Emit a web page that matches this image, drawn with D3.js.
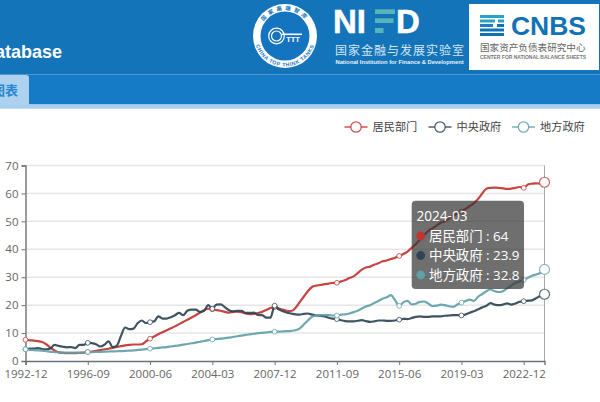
<!DOCTYPE html>
<html><head><meta charset="utf-8">
<script src="https://cdn.jsdelivr.net/npm/d3@7/dist/d3.min.js"></script>
<style>html,body{margin:0;padding:0;background:#fff;overflow:hidden}svg{display:block}</style>
</head><body><svg id="c" width="600" height="402"></svg>
<script>
const categories = ["1992-12","1993-03","1993-06","1993-09","1993-12","1994-03","1994-06","1994-09","1994-12","1995-03","1995-06","1995-09","1995-12","1996-03","1996-06","1996-09","1996-12","1997-03","1997-06","1997-09","1997-12","1998-03","1998-06","1998-09","1998-12","1999-03","1999-06","1999-09","1999-12","2000-03","2000-06","2000-09","2000-12","2001-03","2001-06","2001-09","2001-12","2002-03","2002-06","2002-09","2002-12","2003-03","2003-06","2003-09","2003-12","2004-03","2004-06","2004-09","2004-12","2005-03","2005-06","2005-09","2005-12","2006-03","2006-06","2006-09","2006-12","2007-03","2007-06","2007-09","2007-12","2008-03","2008-06","2008-09","2008-12","2009-03","2009-06","2009-09","2009-12","2010-03","2010-06","2010-09","2010-12","2011-03","2011-06","2011-09","2011-12","2012-03","2012-06","2012-09","2012-12","2013-03","2013-06","2013-09","2013-12","2014-03","2014-06","2014-09","2014-12","2015-03","2015-06","2015-09","2015-12","2016-03","2016-06","2016-09","2016-12","2017-03","2017-06","2017-09","2017-12","2018-03","2018-06","2018-09","2018-12","2019-03","2019-06","2019-09","2019-12","2020-03","2020-06","2020-09","2020-12","2021-03","2021-06","2021-09","2021-12","2022-03","2022-06","2022-09","2022-12","2023-03","2023-06","2023-09","2023-12","2024-03"];
const household = [7.6,7.4,7.3,7.1,6.8,6,4.8,3.8,3.1,2.9,2.8,2.8,2.8,2.9,3,3.2,3.4,3.6,3.9,4.2,4.4,4.7,5,5.3,5.6,5.8,5.9,5.9,6,7,8,8.8,9.6,10.3,11,11.7,12.4,13.2,14,14.8,15.6,16.4,17.3,18.2,18.7,18.5,18.2,18,17.6,17.3,17.6,17.7,17.5,17,16.8,16.9,17.2,17.6,18.3,19,19.3,18.8,18.4,18,17.9,19,21,23,25,26.5,27,27.2,27.5,27.7,28,28,28.5,29,29.7,30.3,31.5,32.7,33.5,33.8,34.5,35,35.7,36,36.5,37,37.6,38.3,39.2,40.5,41.8,43.5,45,46.5,47.5,48.5,49.5,50,51,52,52.8,53.5,54.5,55.5,56.5,58,60,61.7,62,62.1,62,61.8,61.6,61.7,62,62.3,62,63.2,63.5,63.6,63.5,64];
const central = [4.2,4.4,4.4,4.6,4.3,4.2,4.5,5.8,5.4,5.1,4.9,5,4.6,5.8,5.8,6.5,6.4,6,5.2,5.8,7,5,5.5,9,12,11.4,11.6,13.5,14.5,13.6,13.9,14.2,16,15.2,15.2,15.7,16.4,17.2,16.4,18,18.4,18.4,17.6,18,20,18.7,20.2,20.3,19.3,18.2,17.8,18,18,17.2,17.2,17.3,16.5,16.4,15.5,15.5,19.8,18.5,17.8,17.3,17,16.7,16.6,16.9,17,16.6,16.3,16.2,16,15.5,15.2,15,14.6,14.3,14.2,14.2,14.4,14.6,14.3,14,14.2,14.5,14.5,14.4,14.4,14.5,14.8,15.1,15,15.4,15.8,16,15.8,15.8,16,16,16,16.2,16.3,16.4,16.4,16.3,16.7,17.3,17.8,18.5,19.2,19.8,20.7,20.2,20,20.2,20.6,20.2,20.6,21.2,21.4,21.6,21.7,22.5,23.3,23.9];
const local = [4.2,4,3.9,3.8,3.7,3.5,3.3,3.2,3.1,3,3,3,3,3,3.05,3.2,3.2,3.25,3.3,3.35,3.4,3.45,3.5,3.55,3.6,3.7,3.8,3.95,4.1,4.25,4.4,4.55,4.7,4.85,5,5.2,5.4,5.6,5.85,6.1,6.35,6.6,6.9,7.15,7.45,7.7,7.85,8,8.2,8.4,8.6,8.85,9.1,9.35,9.55,9.75,9.95,10.1,10.25,10.4,10.5,10.5,10.6,10.7,10.8,11,11.6,13,14.5,15.8,16.3,16.4,16.4,16.4,16.3,16.3,16.6,16.7,17,17.5,18,18.8,19.5,20,20.8,21.5,22.3,22.8,23.6,21.8,19.7,21,21.5,20.3,20.5,21.2,21.3,20.6,19.7,19.8,20.2,20,19.6,19.4,20.2,20.9,21.5,22,21.5,23,24,25,25.6,25,24.7,25,26,27,28,28.5,29,29.8,30.5,31,31.5,32.8];
const seriesNames = ["居民部门","中央政府","地方政府"];
const seriesValues = [household, central, local];
const seriesColors = ["#c23531","#2f4554","#61a0a8"];
const yTicks = [0,10,20,30,40,50,60,70];
const xTickLabels = ["1992-12","1996-09","2000-06","2004-03","2007-12","2011-09","2015-06","2019-03","2022-12"];
const markerLabels = xTickLabels.concat(["2024-03"]);
const tooltipDate = "2024-03";

const svg = d3.select("#c");
const CJK = '"Noto Sans CJK SC","Noto Sans",sans-serif';
const LAT = '"Open Sans","Noto Sans",sans-serif';

/* page header */
const hdr = svg.append("g");
hdr.append("rect").attr("width",600).attr("height",74.5).attr("fill","#1474b9");
hdr.append("rect").attr("y",74.5).attr("width",600).attr("height",30).attr("fill","#167bc7");
hdr.append("rect").attr("y",104.5).attr("width",600).attr("height",4.2).attr("fill","#a8cfee");
hdr.append("path").attr("d","M0,75H26a3,3 0 0 1 3,3V105H0Z").attr("fill","#add1ef");
hdr.append("text").attr("x",18).attr("y",94.6).attr("text-anchor","end").attr("font-family",CJK).attr("font-weight",700).attr("font-size",13).attr("fill","#2a86d0").text("图表");
hdr.append("text").attr("x",62).attr("y",58).attr("text-anchor","end").attr("font-family",'"Liberation Sans",Arial,sans-serif').attr("font-weight",700).attr("font-size",18).attr("fill","#fff").text("Database");

/* round logo */
const lg = hdr.append("g").attr("transform","translate(285,36)");
lg.append("circle").attr("r",32).attr("fill","#fff");
lg.append("circle").attr("r",24.5).attr("fill","#1474c0");
const defs = svg.append("defs");
defs.append("path").attr("id","arcT").attr("d","M-26,0A26,26 0 0 1 26,0");
defs.append("path").attr("id","arcB").attr("d","M-30.5,0A30.5,30.5 0 0 0 30.5,0");
lg.append("text").attr("font-family",CJK).attr("font-size",5.4).attr("font-weight",700).attr("fill","#1474c0").attr("letter-spacing",3)
  .append("textPath").attr("href","#arcT").attr("startOffset","50%").attr("text-anchor","middle").text("国家高端智库");
lg.append("text").attr("font-family",'"Liberation Sans",sans-serif').attr("font-size",5.2).attr("font-weight",700).attr("letter-spacing",.6).attr("fill","#1474c0")
  .append("textPath").attr("href","#arcB").attr("startOffset","50%").attr("text-anchor","middle").text("CHINA TOP THINK TANKS");
lg.append("circle").attr("cx",-8.5).attr("cy",0).attr("r",7.8).attr("fill","none").attr("stroke","#fff").attr("stroke-width",1.2);
lg.append("circle").attr("cx",-8.5).attr("cy",0).attr("r",5).attr("fill","none").attr("stroke","#fff").attr("stroke-width",1.2);
lg.append("rect").attr("x",-3).attr("y",-2.5).attr("width",20).attr("height",1.6).attr("fill","#fff");
lg.append("text").attr("x",8).attr("y",5.5).attr("text-anchor","middle").attr("font-family",'"Liberation Sans",sans-serif').attr("font-weight",700).attr("font-size",7.5).attr("fill","#fff").text("TTT");

/* NIFD logo */
const nf = hdr.append("g");
nf.append("text").attr("x",333).attr("y",33).attr("font-family",'"Liberation Sans",sans-serif').attr("font-weight",700).attr("font-size",33).attr("fill","#fff").attr("stroke","#fff").attr("stroke-width",.5).text("NI");
[[375,9.3,20,4.7],[375,18.3,18.5,4.7],[375,28,8.5,5]].forEach(b=>{
  nf.append("rect").attr("x",b[0]).attr("y",b[1]).attr("width",b[2]).attr("height",b[3]).attr("fill","#56b5b8");
});
nf.append("text").attr("x",396).attr("y",33).attr("font-family",'"Liberation Sans",sans-serif').attr("font-weight",700).attr("font-size",33).attr("fill","#fff").attr("stroke","#fff").attr("stroke-width",.5).text("D");
nf.append("text").attr("x",335).attr("y",54.5).attr("font-family",CJK).attr("font-size",12).attr("letter-spacing",1).attr("fill","#d4e6f4").text("国家金融与发展实验室");
nf.append("text").attr("x",335.5).attr("y",64).attr("font-family",'"Liberation Sans",sans-serif').attr("font-weight",700).attr("font-size",5.75).attr("fill","#e8f2fa").text("National Institution for Finance & Development");

/* CNBS logo */
const cb = hdr.append("g");
cb.append("rect").attr("x",469).attr("y",4).attr("width",130).attr("height",66).attr("fill","#fff");
[[480,15,24,3,"#27a5c9"],[480,19.5,15,3,"#27a5c9"],[498,19.5,6,3,"#27a5c9"],[480,24,13,3,"#1e80c0"],[497,24,7,3,"#1272b6"],[480,28.5,24,3,"#1272b6"],[480,33,24,3,"#1272b6"]].forEach(b=>{
  cb.append("rect").attr("x",b[0]).attr("y",b[1]).attr("width",b[2]).attr("height",b[3]).attr("fill",b[4]);
});
cb.append("text").attr("x",511).attr("y",35).attr("font-family",'"Liberation Sans",sans-serif').attr("font-weight",700).attr("font-size",25).attr("textLength",75).attr("lengthAdjust","spacingAndGlyphs").attr("fill","#1272b6").text("CNBS");
cb.append("text").attr("x",480).attr("y",51).attr("font-family",CJK).attr("font-size",9.6).attr("fill","#666").text("国家资产负债表研究中心");
cb.append("text").attr("x",480).attr("y",58.5).attr("font-family",'"Liberation Sans",sans-serif').attr("font-weight",700).attr("font-size",5).attr("textLength",106).attr("lengthAdjust","spacingAndGlyphs").attr("fill","#777").text("CENTER FOR NATIONAL BALANCE SHEETS");

/* scales */
const x = d3.scalePoint().domain(categories).range([25.5,544.5]);
const y = d3.scaleLinear().domain([0,70]).range([361,165.5]);

/* split lines */
svg.append("g").selectAll("line").data(yTicks.slice(1)).join("line")
  .attr("x1",25.5).attr("x2",544.5).attr("y1",d=>y(d)).attr("y2",d=>y(d))
  .attr("stroke","#e6e6e6").attr("stroke-width",1.5);

/* pointer */
svg.append("line").attr("x1",x(tooltipDate)).attr("x2",x(tooltipDate)).attr("y1",y(70)).attr("y2",y(0)).attr("stroke","#aaa").attr("stroke-width",1);

/* axes */
const gx = svg.append("g").attr("transform","translate(0,361)")
  .call(d3.axisBottom(x).tickValues(xTickLabels).tickSize(4).tickPadding(5));
const gy = svg.append("g").attr("transform","translate(25.5,0)")
  .call(d3.axisLeft(y).tickValues(yTicks).tickSize(4).tickPadding(3));
[gx,gy].forEach(g=>{
  g.selectAll("path.domain").attr("stroke","#6e7079").attr("stroke-width",1.4);
  g.selectAll(".tick line").attr("stroke","#6e7079").attr("stroke-width",1);
  g.selectAll("text").attr("font-family",LAT).attr("font-size",11.5).attr("fill","#666");
});

/* lines */
const line = d3.line().x((d,i)=>x(categories[i])).y(d=>y(d)).curve(d3.curveMonotoneX);
seriesValues.forEach((vals,k)=>{
  const c = seriesColors[k];
  svg.append("path").datum(vals).attr("d",line).attr("fill","none").attr("stroke",c).attr("stroke-width",2.2).attr("stroke-opacity",.92);
  const pts = markerLabels.map(l=>({l,v:vals[categories.indexOf(l)]}));
  svg.append("g").selectAll("circle").data(pts).join("circle")
    .attr("cx",d=>x(d.l)).attr("cy",d=>y(d.v))
    .attr("r",d=>d.l===tooltipDate?5:2.4)
    .attr("fill","#fff").attr("stroke",c).attr("stroke-opacity",.75)
    .attr("stroke-width",d=>d.l===tooltipDate?1.2:1);
});

/* legend */
const legendX = [356,440,523.5], legendTextX = [372.5,456.5,540];
seriesNames.forEach((n,k)=>{
  const g = svg.append("g");
  g.append("line").attr("x1",legendX[k]-11.5).attr("x2",legendX[k]+11.5).attr("y1",127).attr("y2",127).attr("stroke",seriesColors[k]).attr("stroke-width",1.5).attr("stroke-opacity",.85);
  g.append("circle").attr("cx",legendX[k]).attr("cy",127).attr("r",5.2).attr("fill","#fff").attr("stroke",seriesColors[k]).attr("stroke-width",1.3).attr("stroke-opacity",.85);
  g.append("text").attr("x",legendTextX[k]).attr("y",131).attr("font-family",CJK).attr("font-size",11.2).attr("fill","#444").text(n);
});

/* tooltip */
const tip = svg.append("g");
tip.append("rect").attr("x",411.7).attr("y",200.7).attr("width",112.3).attr("height",88.3).attr("rx",4).attr("fill","rgba(50,50,50,0.7)");
tip.append("text").attr("x",416.5).attr("y",221).attr("font-family",LAT).attr("font-size",13.6).attr("fill","#fff").text(tooltipDate);
const rowY = [236,255.5,275];
seriesNames.forEach((n,k)=>{
  const v = seriesValues[k][categories.indexOf(tooltipDate)];
  tip.append("circle").attr("cx",420.7).attr("cy",rowY[k]).attr("r",4.4).attr("fill",seriesColors[k]);
  tip.append("text").attr("x",429).attr("y",rowY[k]+4.8).attr("font-family",'"Open Sans","Noto Sans CJK SC",sans-serif').attr("font-size",13.4).attr("fill","#fff").text(n+" : "+v);
});
</script></body></html>
